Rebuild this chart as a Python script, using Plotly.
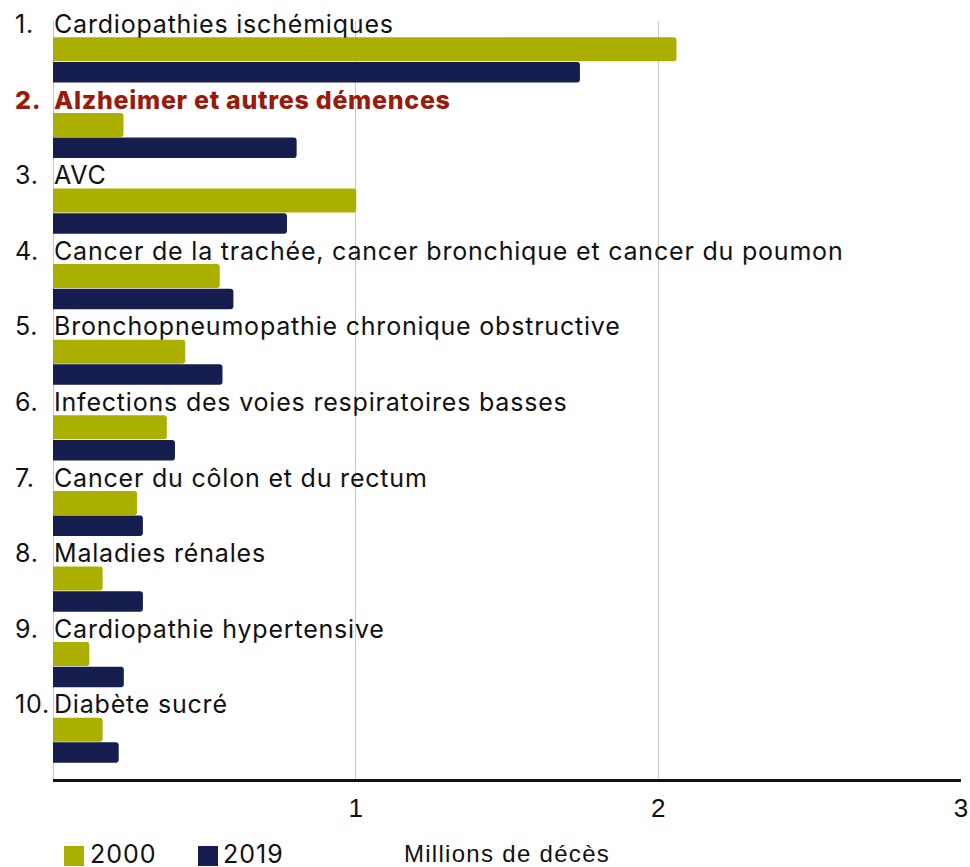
import plotly.graph_objects as go

# ---- data ----
categories = [
    "Cardiopathies ischémiques",
    "Alzheimer et autres démences",
    "AVC",
    "Cancer de la trachée, cancer bronchique et cancer du poumon",
    "Bronchopneumopathie chronique obstructive",
    "Infections des voies respiratoires basses",
    "Cancer du côlon et du rectum",
    "Maladies rénales",
    "Cardiopathie hypertensive",
    "Diabète sucré",
]
ranks = ["1.", "2.", "3.", "4.", "5.", "6.", "7.", "8.", "9.", "10."]
deaths_2000 = [2.06, 0.233, 1.002, 0.551, 0.437, 0.376, 0.278, 0.164, 0.120, 0.164]
deaths_2019 = [1.741, 0.805, 0.773, 0.596, 0.560, 0.403, 0.297, 0.297, 0.234, 0.217]
series_names = ["2000", "2019"]
x_ticks = [1, 2, 3]
highlight_index = 1
axis_title = "Millions de décès"

# ---- style ----
C2000 = "#abaf00"
C2019 = "#161d4f"
CRED = "#9a1a0c"
LABEL_FONT = "Inter"
TICK_FONT = "Liberation Sans"

W, H = 970, 867
L, R, T, B = 53, 9, 21, 88
PW, PH = W - L - R, H - T - B

# layout positions (pixel-like units from top of plot area)
STEP = 75.6
label_pos = [3 + STEP * i for i in range(len(categories))]
pos_2000 = [28.3 + STEP * i for i in range(len(categories))]
pos_2019 = [51.2 + STEP * i for i in range(len(categories))]


def spaced(text, sp):
    return f'<span style="letter-spacing:{sp}px">{text}</span>'


fig = go.Figure()
fig.add_trace(go.Bar(
    x=deaths_2000, y=pos_2000, orientation="h", width=24,
    marker=dict(color=C2000, line=dict(width=0)), name=series_names[0],
    showlegend=False, hoverinfo="x",
))
fig.add_trace(go.Bar(
    x=deaths_2019, y=pos_2019, orientation="h", width=20.5,
    marker=dict(color=C2019, line=dict(width=0)), name=series_names[1],
    showlegend=False, hoverinfo="x",
))

annotations = []
for i, (cat, rk) in enumerate(zip(categories, ranks)):
    hl = i == highlight_index
    f = dict(family=LABEL_FONT, size=25, color=CRED if hl else "#111111",
             weight=800 if hl else 400)
    sp = 0.7 if hl else 0.8
    annotations.append(dict(
        x=0, y=label_pos[i], xref="x", yref="y", text=spaced(cat, sp), showarrow=False,
        xanchor="left", yanchor="middle", xshift=-1, font=f,
    ))
    annotations.append(dict(
        x=0, y=label_pos[i], xref="paper", yref="y", text=spaced(rk, sp), showarrow=False,
        xanchor="left", yanchor="middle", xshift=-40, font=f,
    ))


def px_x(p):
    return (p - L) / PW


def px_y(p):
    return (H - B - p) / PH


shapes = []
legend_items = [(series_names[0], C2000, 64, 88), (series_names[1], C2019, 198, 221)]
for name, col, sx, tx in legend_items:
    shapes.append(dict(type="rect", xref="paper", yref="paper",
                       x0=px_x(sx), x1=px_x(sx + 20), y0=px_y(866), y1=px_y(846),
                       fillcolor=col, line=dict(width=0)))
    annotations.append(dict(x=px_x(tx), y=px_y(854), xref="paper", yref="paper",
                            text=spaced(name, 1.0), showarrow=False, xanchor="left",
                            yanchor="middle",
                            font=dict(family=LABEL_FONT, size=25, color="#111111")))

fig.update_layout(
    width=W, height=H,
    margin=dict(l=L, r=R, t=T, b=B, pad=0, autoexpand=False),
    plot_bgcolor="white", paper_bgcolor="white",
    barmode="overlay", barcornerradius=3,
    annotations=annotations, shapes=shapes,
    showlegend=False,
    xaxis=dict(
        range=[0, 3], tickvals=x_ticks, ticktext=[str(t) for t in x_ticks],
        showgrid=True, gridcolor="#c8c8c8", gridwidth=1,
        zeroline=True, zerolinecolor="#c8c8c8", zerolinewidth=1,
        showline=True, linecolor="#111111", linewidth=2.5,
        ticks="", ticklabelstandoff=4, automargin=False,
        tickfont=dict(family=TICK_FONT, size=26, color="#111111"),
        title=dict(text=spaced(axis_title, 1.3), standoff=25,
                   font=dict(family=TICK_FONT, size=24, color="#111111")),
        fixedrange=True,
    ),
    yaxis=dict(range=[PH, 0], visible=False, fixedrange=True, automargin=False),
)

fig.write_html(
    "out.html",
    config={"displayModeBar": False},
    post_script="document.body.style.margin='0';document.body.style.overflow='hidden';",
)
